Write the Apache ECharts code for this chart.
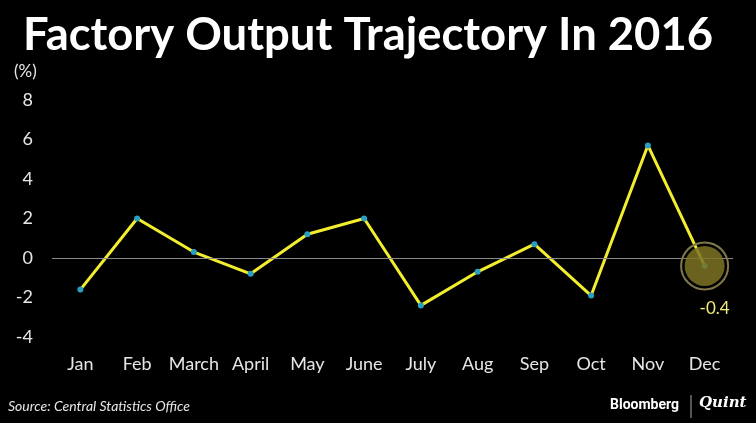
<!DOCTYPE html>
<html><head><meta charset="utf-8">
<script src="https://cdn.jsdelivr.net/npm/echarts@6/dist/echarts.min.js"></script>
<style>html,body{margin:0;padding:0;background:#000;}#c{width:756px;height:423px;}</style>
</head><body><div id="c"></div>
<script>
const categories = ['Jan','Feb','March','April','May','June','July','Aug','Sep','Oct','Nov','Dec'];
const values = [-1.6, 2.0, 0.3, -0.8, 1.2, 2.0, -2.4, -0.7, 0.7, -1.9, 5.7, -0.4];
const yTicks = [-4, -2, 0, 2, 4, 6, 8];
const title = 'Factory Output Trajectory In 2016';
const source = 'Source: Central Statistics Office';

const chart = echarts.init(document.getElementById('c'));
const last = categories.length - 1;
chart.setOption({
  backgroundColor: '#000',
  animation: false,
  title: {
    text: title, left: 18, top: 8,
    textStyle: {color: '#fff', fontFamily: 'Lato', fontWeight: 'bold', fontSize: 45.4}
  },
  grid: {left: 52, right: 23, top: 100, bottom: 86},
  xAxis: {
    type: 'category', data: categories,
    axisLine: {show: false}, axisTick: {show: false},
    axisLabel: {color: '#e6e6e6', fontSize: 18, fontFamily: 'Lato', margin: 18, interval: 0}
  },
  yAxis: {
    type: 'value', min: yTicks[0], max: yTicks[yTicks.length - 1], interval: 2,
    axisLine: {show: false}, axisTick: {show: false}, splitLine: {show: false},
    axisLabel: {color: '#e6e6e6', fontSize: 18, fontFamily: 'Lato', margin: 19}
  },
  series: [{
    type: 'line', data: values,
    lineStyle: {color: '#f2ee2e', width: 3},
    symbol: 'circle', symbolSize: 6,
    itemStyle: {color: '#2a9fc4'},
    z: 3,
    markLine: {
      silent: true, symbol: 'none',
      lineStyle: {color: '#8a8a8a', type: 'solid', width: 1.2},
      label: {show: false},
      data: [{yAxis: 0}]
    },
    markPoint: {
      silent: true,
      data: [
        {coord: [categories[last], values[last]], symbol: 'circle', symbolSize: 47,
         itemStyle: {color: 'rgba(0,0,0,0)', borderColor: '#80784a', borderWidth: 2},
         label: {show: false}},
        {coord: [categories[last], values[last]], symbol: 'circle', symbolSize: 40,
         itemStyle: {color: 'rgba(125,115,35,0.85)'},
         label: {show: true, position: 'bottom', distance: 14, offset: [10, 0], formatter: String(values[last]),
           color: '#f2ec7a', fontSize: 17, fontFamily: 'Lato'}}
      ]
    }
  }],
  graphic: [
    {type: 'text', left: 14, top: 63, style: {text: '(%)', fill: '#e6e6e6', font: '17px Lato'}},
    {type: 'text', left: 8, top: 399, style: {text: source, fill: '#e6e6e6', font: 'italic 14px Lato'}},
    {type: 'text', left: 610, top: 398, style: {text: 'Bloomberg', fill: '#fff', font: 'bold 14px Roboto'}},
    {type: 'line', shape: {x1: 691, y1: 395, x2: 691, y2: 418}, style: {stroke: '#aaa', lineWidth: 1}},
    {type: 'text', left: 699, top: 396, style: {text: 'Quint', fill: '#fff', font: 'italic bold 15px "DejaVu Serif"'}}
  ]
});
</script></body></html>
